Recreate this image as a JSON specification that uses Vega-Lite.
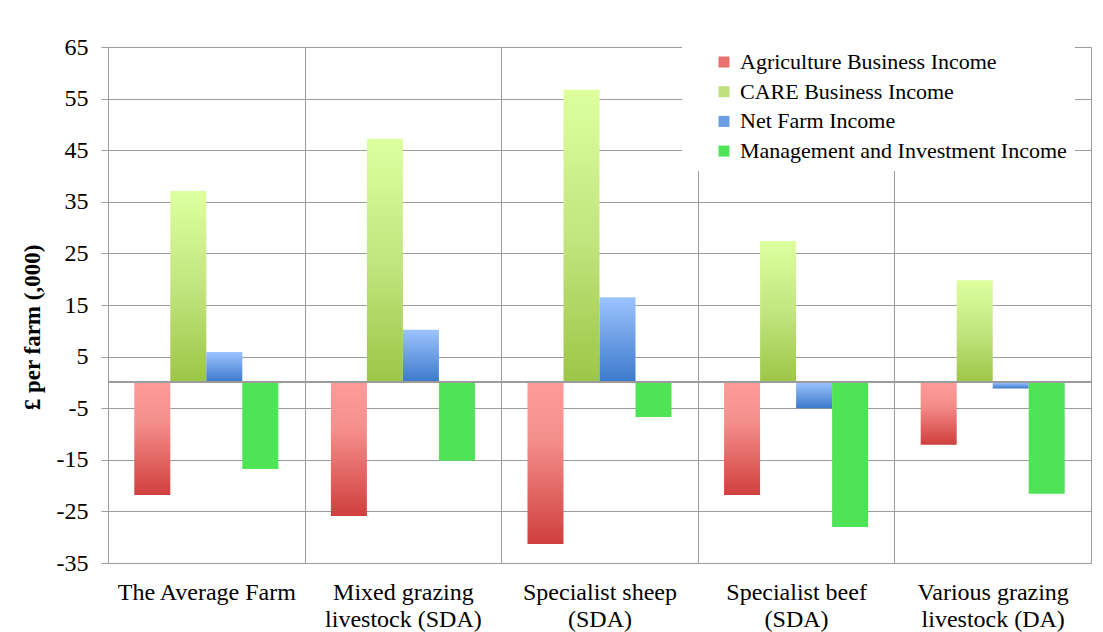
{
  "$schema": "https://vega.github.io/schema/vega-lite/v6.json",
  "width": 983,
  "height": 516,
  "autosize": {"type": "none"},
  "padding": {"left": 108, "top": 47, "right": 12, "bottom": 69},
  "background": "white",
  "config": {
    "view": {"stroke": null},
    "font": "'Liberation Serif', 'Times New Roman', serif"
  },
  "data": {
    "values": [
      {"farm": "The Average Farm", "measure": "Agriculture Business Income", "value": -21.8},
      {"farm": "The Average Farm", "measure": "CARE Business Income", "value": 37.1},
      {"farm": "The Average Farm", "measure": "Net Farm Income", "value": 5.9},
      {"farm": "The Average Farm", "measure": "Management and Investment Income", "value": -16.8},
      {"farm": "Mixed grazing livestock (SDA)", "measure": "Agriculture Business Income", "value": -25.9},
      {"farm": "Mixed grazing livestock (SDA)", "measure": "CARE Business Income", "value": 47.2},
      {"farm": "Mixed grazing livestock (SDA)", "measure": "Net Farm Income", "value": 10.2},
      {"farm": "Mixed grazing livestock (SDA)", "measure": "Management and Investment Income", "value": -15.2},
      {"farm": "Specialist sheep (SDA)", "measure": "Agriculture Business Income", "value": -31.3},
      {"farm": "Specialist sheep (SDA)", "measure": "CARE Business Income", "value": 56.7},
      {"farm": "Specialist sheep (SDA)", "measure": "Net Farm Income", "value": 16.5},
      {"farm": "Specialist sheep (SDA)", "measure": "Management and Investment Income", "value": -6.7},
      {"farm": "Specialist beef (SDA)", "measure": "Agriculture Business Income", "value": -21.8},
      {"farm": "Specialist beef (SDA)", "measure": "CARE Business Income", "value": 27.4},
      {"farm": "Specialist beef (SDA)", "measure": "Net Farm Income", "value": -5.0},
      {"farm": "Specialist beef (SDA)", "measure": "Management and Investment Income", "value": -28.0},
      {"farm": "Various grazing livestock (DA)", "measure": "Agriculture Business Income", "value": -12.1},
      {"farm": "Various grazing livestock (DA)", "measure": "CARE Business Income", "value": 19.8},
      {"farm": "Various grazing livestock (DA)", "measure": "Net Farm Income", "value": -1.2},
      {"farm": "Various grazing livestock (DA)", "measure": "Management and Investment Income", "value": -21.6}
    ]
  },
  "layer": [
    {
      "encoding": {
        "x": {
          "field": "farm",
          "type": "nominal",
          "sort": ["The Average Farm", "Mixed grazing livestock (SDA)", "Specialist sheep (SDA)", "Specialist beef (SDA)", "Various grazing livestock (DA)"],
          "scale": {"paddingInner": 0, "paddingOuter": 0},
          "axis": {
            "title": null,
            "orient": "bottom",
            "tickBand": "extent",
            "grid": true,
            "gridColor": "#9c9c9c",
            "gridWidth": 1,
            "ticks": false,
            "domain": false,
            "labelAngle": 0,
            "labelFontSize": 24,
            "labelColor": "black",
            "labelLimit": 400,
            "labelPadding": 17,
            "labelLineHeight": 27,
            "labelExpr": "datum.value == 'Mixed grazing livestock (SDA)' ? ['Mixed grazing', 'livestock (SDA)'] : datum.value == 'Specialist sheep (SDA)' ? ['Specialist sheep', '(SDA)'] : datum.value == 'Specialist beef (SDA)' ? ['Specialist beef', '(SDA)'] : datum.value == 'Various grazing livestock (DA)' ? ['Various grazing', 'livestock (DA)'] : datum.value"
          }
        },
        "xOffset": {
          "field": "measure",
          "type": "nominal",
          "scale": {
            "domain": ["Agriculture Business Income", "CARE Business Income", "Net Farm Income", "Management and Investment Income"],
            "paddingInner": 0,
            "paddingOuter": 0.73
          }
        },
        "y": {
          "field": "value",
          "type": "quantitative",
          "scale": {"domain": [-35, 65], "nice": false, "zero": false},
          "axis": {
            "values": [-35, -25, -15, -5, 5, 15, 25, 35, 45, 55, 65],
            "labelExpr": "'' + datum.value",
            "grid": true,
            "gridColor": "#9c9c9c",
            "gridWidth": 1,
            "domainColor": "#9c9c9c",
            "tickColor": "#9c9c9c",
            "tickSize": 7,
            "labelFontSize": 24,
            "labelColor": "black",
            "labelPadding": 13,
            "title": "£ per farm (,000)",
            "titleFontSize": 23,
            "titleFontWeight": "bold",
            "titleColor": "black",
            "titlePadding": 12,
            "titleY": 280
          }
        }
      },
      "layer": [
        {
          "mark": {"type": "bar", "opacity": 0},
          "encoding": {
            "color": {
              "field": "measure",
              "type": "nominal",
              "scale": {
                "domain": ["Agriculture Business Income", "CARE Business Income", "Net Farm Income", "Management and Investment Income"],
                "range": ["#e8706e", "#c0e07a", "#6c9ee6", "#4fe356"]
              },
              "legend": {
                "title": null,
                "orient": "none",
                "legendX": 574,
                "legendY": -4,
                "fillColor": "white",
                "padding": 8,
                "symbolType": "square",
                "symbolSize": 121,
                "symbolOpacity": 1,
                "symbolOffset": 23,
                "symbolStrokeWidth": 0,
                "labelFontSize": 22,
                "labelColor": "black",
                "labelOffset": 5,
                "labelLimit": 400,
                "rowPadding": 7.7
              }
            }
          }
        },
        {
          "transform": [{"filter": "datum.measure == 'Agriculture Business Income'"}],
          "mark": {
            "type": "bar",
            "color": {"gradient": "linear", "x1": 0, "y1": 0, "x2": 0, "y2": 1, "stops": [{"offset": 0, "color": "#ff9b9a"}, {"offset": 0.35, "color": "#f58f8c"}, {"offset": 1, "color": "#cf3f3d"}]}
          }
        },
        {
          "transform": [{"filter": "datum.measure == 'CARE Business Income'"}],
          "mark": {
            "type": "bar",
            "color": {"gradient": "linear", "x1": 0, "y1": 0, "x2": 0, "y2": 1, "stops": [{"offset": 0, "color": "#ddff9e"}, {"offset": 0.5, "color": "#c3e57f"}, {"offset": 1, "color": "#9cc647"}]}
          }
        },
        {
          "transform": [{"filter": "datum.measure == 'Net Farm Income'"}],
          "mark": {
            "type": "bar",
            "color": {"gradient": "linear", "x1": 0, "y1": 0, "x2": 0, "y2": 1, "stops": [{"offset": 0, "color": "#9dc3ff"}, {"offset": 1, "color": "#3b79cb"}]}
          }
        },
        {
          "transform": [{"filter": "datum.measure == 'Management and Investment Income'"}],
          "mark": {"type": "bar", "color": "#4fe356"}
        }
      ]
    },
    {
      "mark": {"type": "rule", "color": "#9c9c9c", "strokeWidth": 1.2},
      "encoding": {"y": {"datum": 0}}
    }
  ]
}
